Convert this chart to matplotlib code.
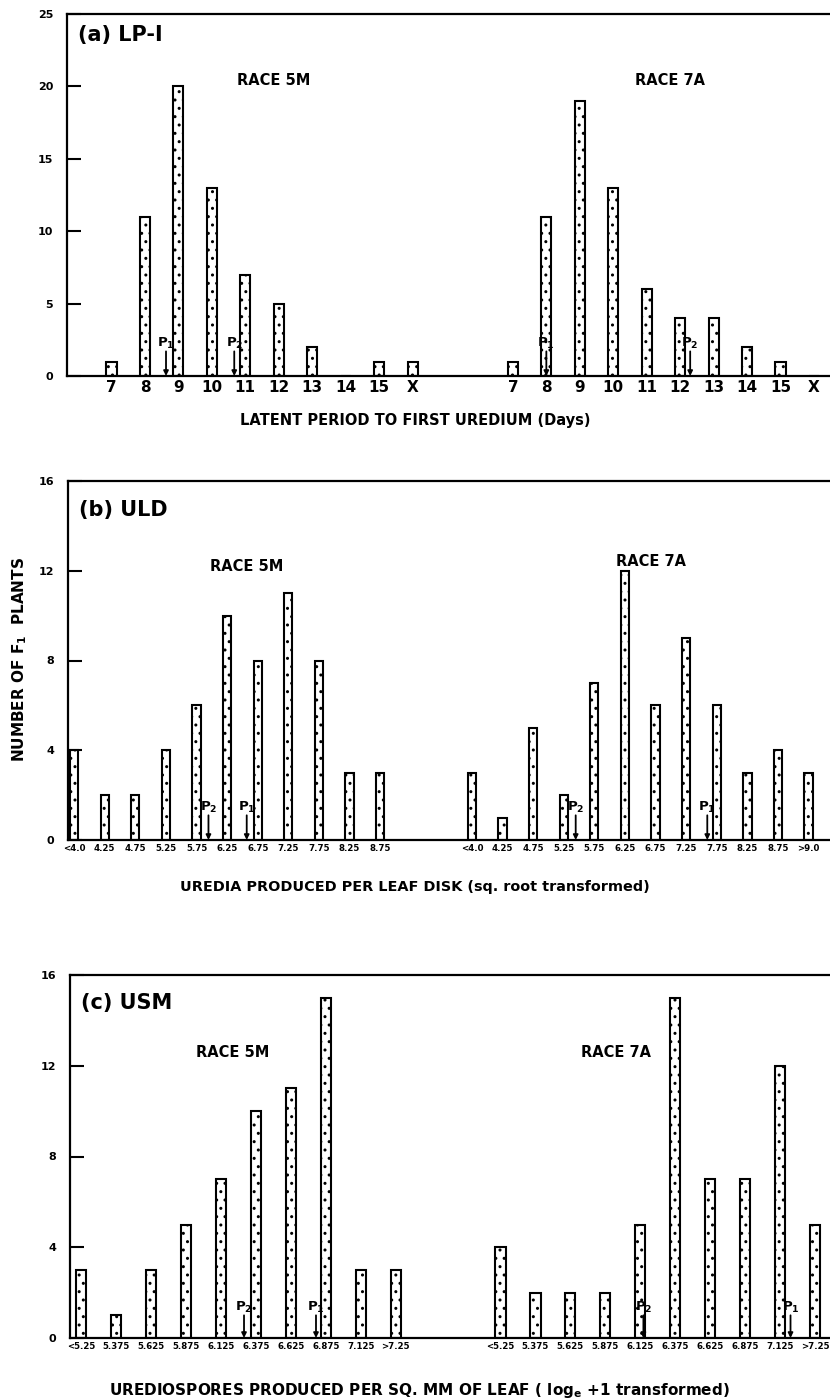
import numpy as np
import matplotlib
matplotlib.use('Agg')
import matplotlib.pyplot as plt

plt.rcParams['font.family'] = 'DejaVu Sans'
plt.rcParams['font.weight'] = 'bold'
plt.rcParams['mathtext.default'] = 'bf'
plt.rcParams['hatch.linewidth'] = 1.0

# (a) latent period, days
lp_labels_5m = ['7', '8', '9', '10', '11', '12', '13', '14', '15', 'X']
lp_labels_7a = ['7', '8', '9', '10', '11', '12', '13', '14', '15', 'X']
lp_5m = [1, 11, 20, 13, 7, 5, 2, 0, 1, 1]
lp_7a = [1, 11, 19, 13, 6, 4, 4, 2, 1, 0]
lp_parents_5m = [('P$_1$', 1.63), ('P$_2$', 3.67)]
lp_parents_7a = [('P$_1$', 1.0), ('P$_2$', 5.3)]

# (b) uredia per leaf disk
uld_labels_5m = ['<4.0', '4.25', '4.75', '5.25', '5.75', '6.25', '6.75', '7.25', '7.75', '8.25', '8.75']
uld_labels_7a = ['<4.0', '4.25', '4.75', '5.25', '5.75', '6.25', '6.75', '7.25', '7.75', '8.25', '8.75', '>9.0']
uld_5m = [4, 2, 2, 4, 6, 10, 8, 11, 8, 3, 3]
uld_7a = [3, 1, 5, 2, 7, 12, 6, 9, 6, 3, 4, 3]
uld_parents_5m = [('P$_2$', 4.39), ('P$_1$', 5.64)]
uld_parents_7a = [('P$_2$', 3.39), ('P$_1$', 7.69)]

# (c) urediospores per sq mm
usm_labels_5m = ['<5.25', '5.375', '5.625', '5.875', '6.125', '6.375', '6.625', '6.875', '7.125', '>7.25']
usm_labels_7a = ['<5.25', '5.375', '5.625', '5.875', '6.125', '6.375', '6.625', '6.875', '7.125', '>7.25']
usm_5m = [3, 1, 3, 5, 7, 10, 11, 15, 3, 3]
usm_7a = [4, 2, 2, 2, 5, 15, 7, 7, 12, 5]
usm_parents_5m = [('P$_2$', 4.66), ('P$_1$', 6.72)]
usm_parents_7a = [('P$_2$', 4.09), ('P$_1$', 8.3)]

GAP = 2


def panel(ax, vals_l, vals_r, labs_l, labs_r, par_l, par_r, width, xlim, ymax, ystep,
          tick_fs, arrow_top):
  x_l = np.arange(len(vals_l))
  x_r = np.arange(len(vals_r)) + len(vals_l) + GAP
  ax.bar(x_l, vals_l, width=width, color='white', edgecolor='black', linewidth=1.5, hatch='..')
  ax.bar(x_r, vals_r, width=width, color='white', edgecolor='black', linewidth=1.5, hatch='..')

  # parent arrows
  for pars, offset in [(par_l, 0), (par_r, len(vals_l) + GAP)]:
    for name, pos in pars:
      ax.annotate('', xy=(pos + offset, 0), xytext=(pos + offset, arrow_top),
                  arrowprops=dict(arrowstyle='-|>', color='black', lw=1.3,
                                  mutation_scale=7, shrinkA=0, shrinkB=0), zorder=5)
      ax.text(pos + offset, arrow_top, name, ha='center', va='bottom', fontsize=9.5, zorder=5)

  ax.set_xticks(np.concatenate([x_l, x_r]))
  ax.set_xticklabels(labs_l + labs_r, fontsize=tick_fs)
  ax.tick_params(axis='x', length=0, pad=3)
  ax.set_xlim(*xlim)
  ax.set_ylim(0, ymax)
  ax.set_yticks(np.arange(0, ymax + 1, ystep))
  ax.tick_params(axis='y', direction='in', length=10, width=1.5, pad=10, labelsize=8)
  ax.spines['right'].set_visible(False)
  for s in ['left', 'top', 'bottom']:
    ax.spines[s].set_linewidth(1.6)
  return x_l, x_r


fig = plt.figure(figsize=(8.3, 14), dpi=100)
ax_a = fig.add_axes([67/830, 1 - 376/1400, 1 - 67/830, 362/1400])
ax_b = fig.add_axes([68/830, 1 - 840/1400, 1 - 68/830, 359/1400])
ax_c = fig.add_axes([70/830, 1 - 1338/1400, 1 - 70/830, 363/1400])

panel(ax_a, lp_5m, lp_7a, lp_labels_5m, lp_labels_7a, lp_parents_5m, lp_parents_7a,
      0.3, (-1.33, 21.48), 25, 5, 11, 1.7)
panel(ax_b, uld_5m, uld_7a, uld_labels_5m, uld_labels_7a, uld_parents_5m, uld_parents_7a,
      0.27, (-0.2, 24.7), 16, 4, 6.2, 1.1)
panel(ax_c, usm_5m, usm_7a, usm_labels_5m, usm_labels_7a, usm_parents_5m, usm_parents_7a,
      0.29, (-0.32, 21.43), 16, 4, 6.2, 1.0)

ax_a.text(0.014, 0.942, '(a) LP-I', transform=ax_a.transAxes, fontsize=15, va='center')
ax_b.text(0.014, 0.919, '(b) ULD', transform=ax_b.transAxes, fontsize=15, va='center')
ax_c.text(0.014, 0.923, '(c) USM', transform=ax_c.transAxes, fontsize=15, va='center')

ax_a.text(4.85, 20.4, 'RACE 5M', ha='center', va='center', fontsize=10.5)
ax_a.text(16.7, 20.4, 'RACE 7A', ha='center', va='center', fontsize=10.5)
ax_b.text(5.64, 12.2, 'RACE 5M', ha='center', va='center', fontsize=10.5)
ax_b.text(18.85, 12.4, 'RACE 7A', ha='center', va='center', fontsize=10.5)
ax_c.text(4.34, 12.6, 'RACE 5M', ha='center', va='center', fontsize=10.5)
ax_c.text(15.3, 12.6, 'RACE 7A', ha='center', va='center', fontsize=10.5)

fig.text(0.5, 1 - 421/1400, 'LATENT PERIOD TO FIRST UREDIUM (Days)', ha='center', va='center', fontsize=10.5)
fig.text(0.5, 1 - 887/1400, 'UREDIA PRODUCED PER LEAF DISK (sq. root transformed)', ha='center', va='center', fontsize=10.4)
fig.text(0.505, 1 - 1390/1400, 'UREDIOSPORES PRODUCED PER SQ. MM OF LEAF ( log$_e$ +1 transformed)',
         ha='center', va='center', fontsize=11)
fig.text(0.024, 1 - 660/1400, 'NUMBER OF F$_1$  PLANTS', rotation=90, ha='center', va='center', fontsize=11)

fig.savefig('out.png', dpi=100)
